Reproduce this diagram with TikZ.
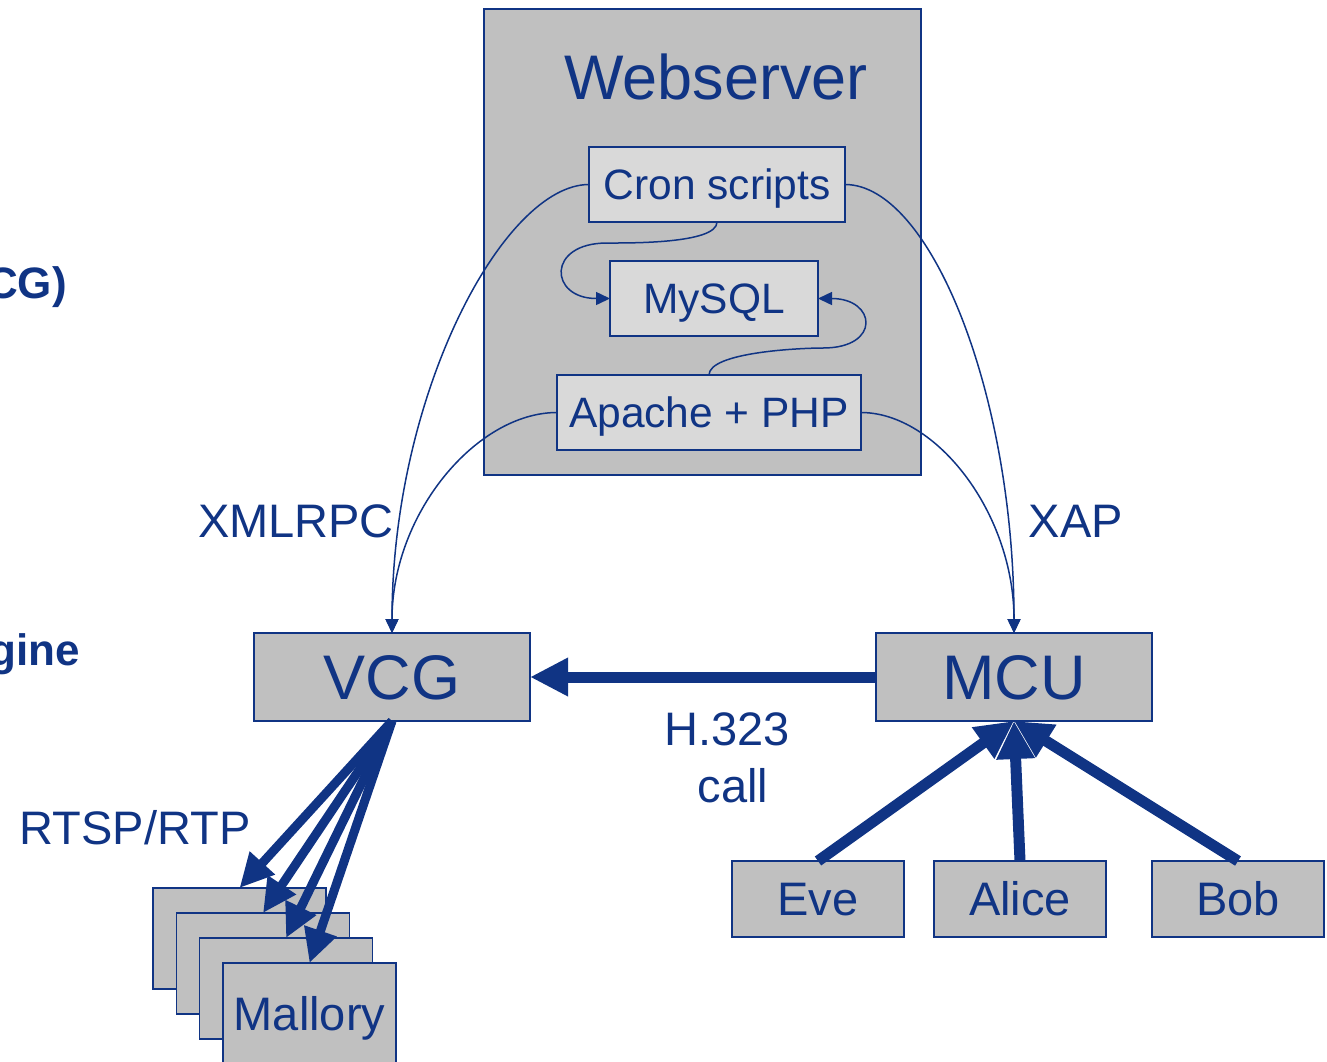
\documentclass[tikz,border=0pt]{standalone}
\usepackage{fontspec}
\setmainfont{Liberation Sans}
\usetikzlibrary{arrows.meta}
\definecolor{navy}{RGB}{16,52,132}
\definecolor{boxgray}{RGB}{192,192,192}
\definecolor{innergray}{RGB}{217,217,217}
\newcommand\hugesize{\fontsize{63}{70}\selectfont}
\newcommand\midsize{\fontsize{47}{54}\selectfont}
\newcommand\smallsize{\fontsize{42.5}{50}\selectfont}
\tikzset{
  box/.style={draw=navy, line width=1.5pt, fill=boxgray, text=navy,
    inner sep=0pt, outer sep=0pt, text depth=0pt},
  hugebox/.style={box, font=\hugesize, text height=45pt},
  midbox/.style={box, font=\midsize, text height=33.6pt},
  inbox/.style={box, fill=innergray, font=\smallsize, text height=30.4pt},
  lbl/.style={text=navy, inner sep=0pt, anchor=base},
  link/.style={draw=navy, line width=1.5pt, -{Triangle[length=14pt,width=13pt]}},
  fat/.style={draw=navy, line width=11pt, -{Triangle[length=38pt,width=36pt]}},
  fatsmall/.style={draw=navy, line width=9pt, -{Triangle[length=34pt,width=32pt]}}
}
\begin{document}
\begin{tikzpicture}[x=1pt,y=-1pt]
\useasboundingbox (0,0) rectangle (1327,1061);
% cut off slide text on the left
\node[lbl, anchor=base east, font=\fontsize{44}{50}\selectfont\bfseries] (cutvcg) at (67,298) {CG)};
\node[lbl, anchor=base east, font=\fontsize{44}{50}\selectfont\bfseries] (cutengine) at (80,665) {gine};
% webserver
\node[box, minimum width=437pt, minimum height=466pt] (web) at (702.5,242) {};
\node[lbl, font=\hugesize] (webtitle) at (716,99) {Webserver};
\node[inbox, minimum width=256pt, minimum height=75pt] (cron) at (717,184.5) {Cron scripts};
\node[inbox, minimum width=208pt, minimum height=75pt] (mysql) at (714,298.5) {MySQL};
\node[inbox, minimum width=304pt, minimum height=75pt] (apache) at (709,412.5) {Apache + PHP};
\coordinate (cronloop) at (607,243);
\coordinate (apacheloop) at (823,348);
% gateway and mcu
\node[hugebox, minimum width=276pt, minimum height=88pt] (vcg) at (392,677) {VCG};
\node[hugebox, minimum width=276pt, minimum height=88pt] (mcu) at (1014,677) {MCU};
\foreach \name/\txt/\px in {eve/Eve/818, alice/Alice/1020, bob/Bob/1238}
  \node[midbox, minimum width=172pt, minimum height=76pt] (\name) at (\px,899) {\txt};
\foreach \i/\px/\py in {1/239.5/938.5, 2/263/963.5, 3/286/988.5}
  \node[box, minimum width=173pt, minimum height=101pt] (mal\i) at (\px,\py) {};
\node[midbox, minimum width=173pt, minimum height=101pt] (mal4) at (309.5,1013.5) {Mallory};
% labels
\node[lbl, font=\midsize] (xmlrpc) at (296,537) {XMLRPC};
\node[lbl, font=\midsize] (xap) at (1076,537) {XAP};
\node[lbl, font=\midsize] (h323) at (727,745) {H.323};
\node[lbl, font=\midsize] (call) at (733,802) {call};
\node[lbl, font=\midsize] (rtsp) at (135,844) {RTSP/RTP};
% thin connectors
\draw[link] (cron.west) .. controls +(-85,0) and +(0,-240) .. (vcg.north);
\draw[link] (apache.west) .. controls +(-80,0) and +(0,-120) .. (vcg.north);
\draw[link] (cron.east) .. controls +(85,0) and +(0,-240) .. (mcu.north);
\draw[link] (apache.east) .. controls +(75,0) and +(0,-120) .. (mcu.north);
\draw[link] (cron.south) to[out=-90,in=0,looseness=0.5] (cronloop)
  to[out=180,in=180,looseness=2.8] (mysql.west);
\draw[link] (apache.north) to[out=90,in=180,looseness=0.5] (apacheloop)
  to[out=0,in=0,looseness=3] (mysql.east);
% thick connectors
\draw[fat] (mcu.west) -- (vcg.east);
\foreach \p in {eve,alice,bob}
  \draw[fat] (\p.north) -- (mcu.south);
\foreach \i in {1,...,4}
  \draw[fatsmall] (vcg.south) -- (mal\i.north);
\end{tikzpicture}
\end{document}
